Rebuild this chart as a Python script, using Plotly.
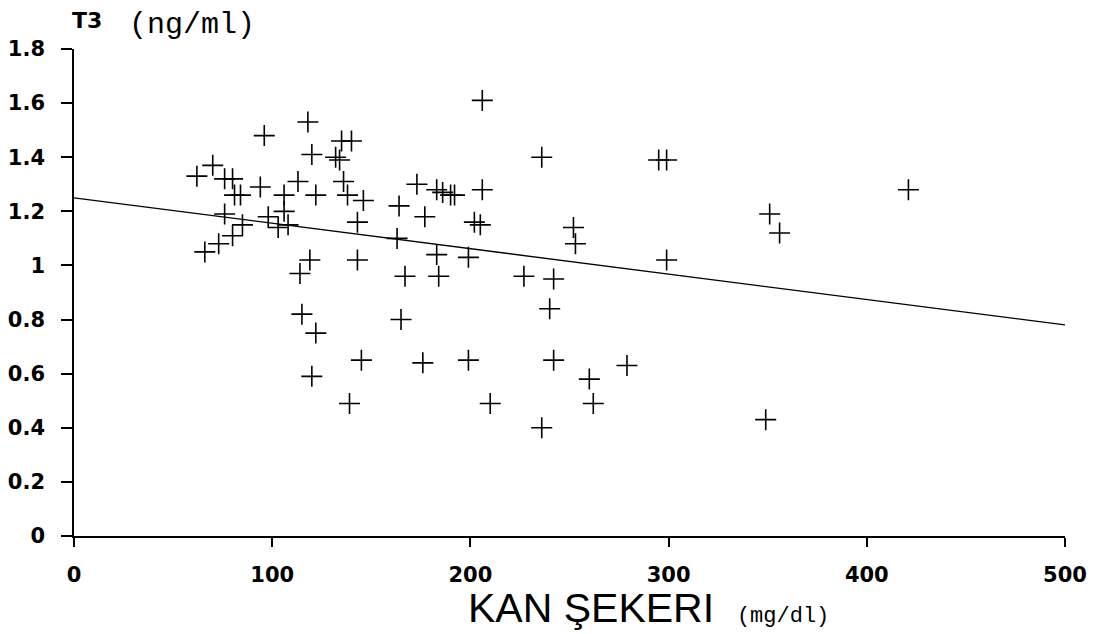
import plotly.graph_objects as go

# blood sugar (mg/dl) and T3 (ng/ml)
kan_sekeri = [62, 70, 76, 80, 81, 84, 96, 94, 76, 85, 80, 66, 73,
              118, 120, 113, 106, 98, 106, 103, 108, 132, 122, 119, 114, 115,
              135, 140, 134, 206, 236, 136, 138, 146, 173,
              183, 186, 190, 192, 206, 164, 177, 202, 205, 143, 163,
              252, 253, 143, 183, 199, 167, 184, 227, 242, 240, 165,
              122, 145, 176, 199, 242, 120, 139, 210, 236,
              295, 299, 351, 356, 299, 279, 260, 262, 349, 421]
t3 = [1.33, 1.37, 1.32, 1.32, 1.26, 1.26, 1.48, 1.29, 1.19, 1.15, 1.11, 1.05, 1.08,
      1.53, 1.41, 1.31, 1.26, 1.18, 1.20, 1.14, 1.15, 1.40, 1.26, 1.02, 0.97, 0.82,
      1.46, 1.46, 1.39, 1.61, 1.40, 1.31, 1.26, 1.24, 1.30,
      1.28, 1.27, 1.26, 1.26, 1.28, 1.22, 1.18, 1.16, 1.15, 1.16, 1.10,
      1.14, 1.08, 1.02, 1.04, 1.03, 0.96, 0.96, 0.96, 0.95, 0.84, 0.80,
      0.75, 0.65, 0.64, 0.65, 0.65, 0.59, 0.49, 0.49, 0.40,
      1.39, 1.39, 1.19, 1.12, 1.02, 0.63, 0.58, 0.49, 0.43, 1.28]

# regression line ends
fit_x = [0, 500]
fit_y = [1.25, 0.78]

x_ticks = [0, 100, 200, 300, 400, 500]
x_labels = ["0", "100", "200", "300", "400", "500"]
y_ticks = [0, 0.2, 0.4, 0.6, 0.8, 1, 1.2, 1.4, 1.6, 1.8]
y_labels = ["0", "0.2", "0.4", "0.6", "0.8", "1", "1.2", "1.4", "1.6", "1.8"]

fig = go.Figure()
fig.add_trace(go.Scatter(x=fit_x, y=fit_y, mode="lines",
                         line=dict(color="black", width=1.3), hoverinfo="skip"))
fig.add_trace(go.Scatter(x=kan_sekeri, y=t3, mode="markers",
                         marker=dict(symbol="cross-thin", size=15,
                                     line=dict(color="black", width=1.6))))

tickfont = dict(family="DejaVu Sans", size=21, color="black", weight="bold")
fig.update_xaxes(range=[0, 500], tickvals=x_ticks, ticktext=x_labels,
                 showline=True, linecolor="black", linewidth=1.5,
                 ticks="outside", ticklen=9, tickcolor="black", tickwidth=1.5,
                 showgrid=False, zeroline=False, tickfont=tickfont,
                 ticklabelstandoff=10, automargin=False)
fig.update_yaxes(range=[0, 1.8], tickvals=y_ticks, ticktext=y_labels,
                 showline=True, linecolor="black", linewidth=1.5,
                 ticks="outside", ticklen=11, tickcolor="black", tickwidth=1.5,
                 showgrid=False, zeroline=False, tickfont=tickfont,
                 ticklabelstandoff=12, automargin=False)

def label(text, x, y, family, size, weight="normal"):
    return dict(text=text, xref="paper", yref="paper", x=x, y=y,
                xanchor="center", yanchor="middle", showarrow=False,
                font=dict(family=family, size=size, color="black", weight=weight))

x_title = ("KAN ŞEKERI  <span style='font-family:Liberation Mono;"
           "font-size:22px'>(mg/dl)</span>")

fig.update_layout(
    width=1099, height=634, showlegend=False,
    plot_bgcolor="white", paper_bgcolor="white",
    margin=dict(l=66, r=42, t=41, b=106),
    annotations=[
        label("T3", 0.013, 1.058, "DejaVu Sans", 22, "bold"),
        label("(ng/ml)", 0.119, 1.05, "Liberation Mono", 30),
        label(x_title, 0.58, -0.148, "Liberation Sans", 41),
    ],
)

fig.write_html("out.html")
